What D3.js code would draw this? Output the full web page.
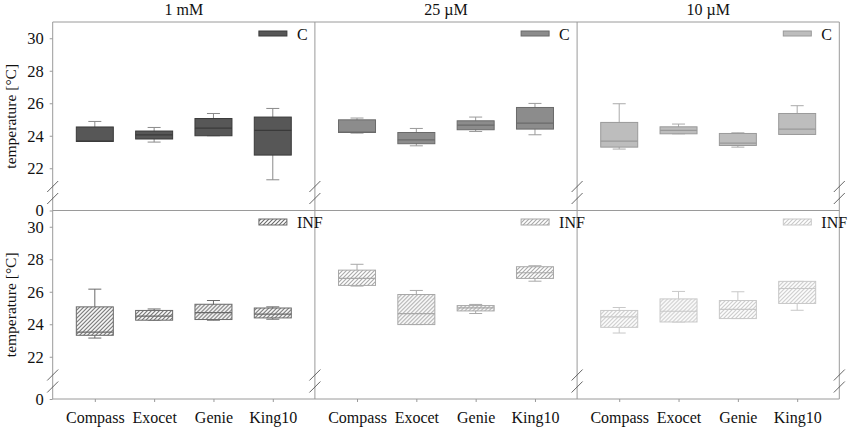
<!DOCTYPE html>
<html>
<head>
<meta charset="utf-8">
<script src="https://cdn.jsdelivr.net/npm/d3@7"></script>
<style>
  body { margin: 0; background: #fff; }
  text { font-family: "Liberation Serif", "Times New Roman", serif; fill: #111; }
</style>
</head>
<body>
<svg id="chart" width="850" height="429"></svg>
<script>
// categories and panels
var groups = ['Compass', 'Exocet', 'Genie', 'King10'];
var concentrations = ['1 mM', '25 \u00b5M', '10 \u00b5M'];
var treatments = ['C', 'INF'];
var yTicks = [0, 22, 24, 26, 28, 30];

// box stats per group: [min, q1, median, q3, max]
var c1mM   = [[23.65, 23.65, 23.67, 24.54, 24.88], [23.61, 23.80, 24.06, 24.29, 24.51], [24.00, 24.00, 24.47, 25.06, 25.37], [21.29, 22.81, 24.33, 25.15, 25.68]];
var c25uM  = [[24.16, 24.20, 24.22, 24.98, 25.09], [23.38, 23.51, 23.75, 24.20, 24.45], [24.26, 24.37, 24.66, 24.92, 25.15], [24.06, 24.41, 24.78, 25.74, 25.99]];
var c10uM  = [[23.18, 23.30, 23.67, 24.82, 25.97], [24.12, 24.12, 24.33, 24.55, 24.72], [23.30, 23.40, 23.55, 24.14, 24.18], [24.08, 24.08, 24.41, 25.37, 25.85]];
var inf1mM  = [[23.15, 23.32, 23.52, 25.07, 26.16], [24.25, 24.25, 24.50, 24.85, 24.94], [24.25, 24.29, 24.72, 25.23, 25.46], [24.31, 24.39, 24.62, 25.00, 25.07]];
var inf25uM = [[26.35, 26.39, 26.82, 27.33, 27.69], [23.98, 23.98, 24.66, 25.83, 26.08], [24.66, 24.82, 25.01, 25.15, 25.22], [26.65, 26.82, 27.17, 27.54, 27.60]];
var inf10uM = [[23.46, 23.81, 24.45, 24.85, 25.03], [24.14, 24.14, 24.80, 25.56, 26.02], [24.35, 24.35, 24.91, 25.46, 26.00], [24.86, 25.28, 26.20, 26.64, 26.64]];

var rowsData = [[c1mM, c25uM, c10uM], [inf1mM, inf25uM, inf10uM]];

// look of each column: dark, medium, light
var fills   = ['#575757', '#8c8c8c', '#bdbdbd'];
var strokes = ['#3a3a3a', '#6a6a6a', '#9a9a9a'];
var whisk   = ['#8a8a8a', '#9a9a9a', '#aaaaaa'];
var hatch   = ['#6a6a6a', '#a8a8a8', '#c8c8c8'];
var frame = '#9a9a9a';

var left = 52.7, top0 = 22, panelW = 262.2, H = 188.5;
var boxW = 37, capW = 13;

var svg = d3.select('#chart');
var defs = svg.append('defs');

hatch.forEach(function(c, i) {
  var p = defs.append('pattern')
    .attr('id', 'hatch' + i)
    .attr('patternUnits', 'userSpaceOnUse')
    .attr('width', 4).attr('height', 4);
  p.append('rect').attr('width', 4).attr('height', 4).attr('fill', '#fff');
  p.append('path')
    .attr('d', 'M-1,1 l2,-2 M0,4 l4,-4 M3,5 l2,-2')
    .attr('stroke', c).attr('stroke-width', 1.1);
});

// column titles
concentrations.forEach(function(c, j) {
  svg.append('text')
    .attr('x', left + panelW * j + panelW / 2)
    .attr('y', 15)
    .attr('text-anchor', 'middle')
    .attr('font-size', 16)
    .text(c);
});

treatments.forEach(function(t, r) {
  var rowTop = top0 + H * r;
  var y = d3.scaleLinear()
    .domain([0, 21, 31])
    .range([rowTop + H, rowTop + H - 26, rowTop]);

  // y axis
  var yAxis = svg.append('g')
    .attr('transform', 'translate(' + left + ',0)')
    .call(d3.axisLeft(y).tickValues(yTicks).tickSize(3).tickPadding(6));
  yAxis.select('.domain').remove();
  yAxis.selectAll('line').attr('stroke', frame);
  yAxis.selectAll('text').attr('font-size', 16.5).style('font-family', '"Liberation Serif", serif');

  svg.append('text')
    .attr('transform', 'translate(16,' + (rowTop + H / 2) + ') rotate(-90)')
    .attr('text-anchor', 'middle')
    .attr('font-size', 15.5)
    .text('temperature [\u00b0C]');

  // frame lines
  svg.append('line')
    .attr('x1', left).attr('x2', left + panelW * 3)
    .attr('y1', rowTop).attr('y2', rowTop)
    .attr('stroke', frame);
  svg.append('line')
    .attr('x1', left).attr('x2', left + panelW * 3)
    .attr('y1', rowTop + H).attr('y2', rowTop + H)
    .attr('stroke', frame);
  d3.range(4).forEach(function(k) {
    var xv = left + panelW * k;
    svg.append('line')
      .attr('x1', xv).attr('x2', xv)
      .attr('y1', rowTop).attr('y2', rowTop + H)
      .attr('stroke', frame);
    // axis break marks
    [24, 12].forEach(function(off) {
      var cy = rowTop + H - off;
      svg.append('line')
        .attr('x1', xv - 5.5).attr('y1', cy + 5.5)
        .attr('x2', xv + 5.5).attr('y2', cy - 5.5)
        .attr('stroke', '#555').attr('stroke-width', 0.9);
    });
  });

  concentrations.forEach(function(c, j) {
    var x0 = left + panelW * j;
    var x = d3.scalePoint().domain(groups).range([x0, x0 + panelW]).padding(0.71);
    var data = rowsData[r][j];
    var fill = r === 0 ? fills[j] : 'url(#hatch' + j + ')';
    var strk = r === 0 ? strokes[j] : hatch[j];
    var wcol = r === 0 ? whisk[j] : hatch[j];

    var g = svg.append('g');
    var box = g.selectAll('g.box')
      .data(data)
      .enter().append('g')
      .attr('class', 'box')
      .attr('transform', function(d, i) { return 'translate(' + x(groups[i]) + ',0)'; });

    box.append('line')
      .attr('y1', function(d) { return y(d[0]); })
      .attr('y2', function(d) { return y(d[4]); })
      .attr('stroke', wcol);
    box.append('line')
      .attr('x1', -capW / 2).attr('x2', capW / 2)
      .attr('y1', function(d) { return y(d[4]); })
      .attr('y2', function(d) { return y(d[4]); })
      .attr('stroke', wcol);
    box.append('line')
      .attr('x1', -capW / 2).attr('x2', capW / 2)
      .attr('y1', function(d) { return y(d[0]); })
      .attr('y2', function(d) { return y(d[0]); })
      .attr('stroke', wcol);
    box.append('rect')
      .attr('x', -boxW / 2).attr('width', boxW)
      .attr('y', function(d) { return y(d[3]); })
      .attr('height', function(d) { return y(d[1]) - y(d[3]); })
      .attr('fill', fill)
      .attr('stroke', strk);
    box.append('line')
      .attr('x1', -boxW / 2).attr('x2', boxW / 2)
      .attr('y1', function(d) { return y(d[2]); })
      .attr('y2', function(d) { return y(d[2]); })
      .attr('stroke', strk).attr('stroke-width', 1.2);

    // legend
    var lx = x0 + panelW - 56;
    var ly = r === 0 ? rowTop + 9 : rowTop + 8.5;
    svg.append('rect')
      .attr('x', lx).attr('y', ly)
      .attr('width', 28).attr('height', r === 0 ? 5 : 6)
      .attr('fill', fill).attr('stroke', strk);
    svg.append('text')
      .attr('x', x0 + panelW - 18)
      .attr('y', ly + 9)
      .attr('font-size', 16)
      .text(t);

    // category axis along the bottom row
    if (r === 1) {
      var xAxis = svg.append('g')
        .attr('transform', 'translate(0,' + (rowTop + H) + ')')
        .call(d3.axisBottom(x).tickSize(3).tickPadding(10));
      xAxis.select('.domain').remove();
      xAxis.selectAll('line').attr('stroke', frame);
      xAxis.selectAll('text').attr('font-size', 16).style('font-family', '"Liberation Serif", serif');
    }
  });
});
</script>
</body>
</html>
